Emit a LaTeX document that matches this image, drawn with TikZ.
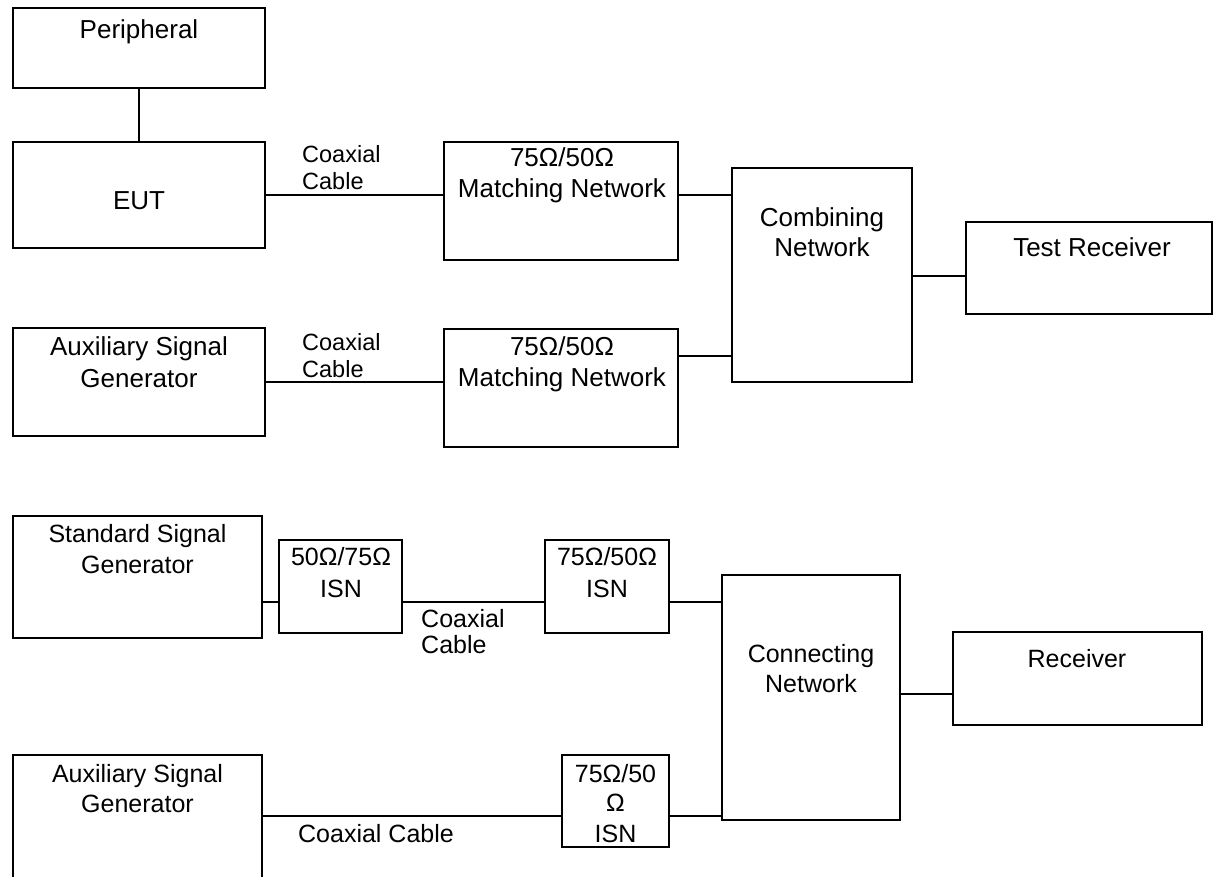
\documentclass[tikz,border=0pt]{standalone}
\usepackage{fontspec}
\setmainfont{Liberation Sans}
\begin{document}
\begin{tikzpicture}[x=1pt,y=-1pt,
  bx/.style 2 args={draw, line width=2pt, inner sep=0pt, minimum width=#1pt, minimum height=#2pt},
  t/.style={anchor=base, inner sep=0pt, font=\fontsize{26}{30}\selectfont},
  tb/.style={anchor=base, inner sep=0pt, font=\fontsize{25}{30}\selectfont},
  cx/.style={anchor=base west, inner sep=0pt, font=\fontsize{23.5}{27}\selectfont},
  ln/.style={line width=1.8pt}]
\useasboundingbox (0,0) rectangle (1214,877);
\clip (0,0) rectangle (1214,877);
\fill[white] (0,0) rectangle (1214,877);
% ---- upper set-up ----
\node[bx={252}{80}] (per) at (139,48) {};
\node[t] (tper) at (139,39) {Peripheral};
\node[bx={252}{106}] (eut) at (139,195) {};
\node[t] (teut) at (139,210) {EUT};
\node[bx={234}{118}] (mn1) at (561,201) {};
\node[t] (tmn1a) at (562,167) {75Ω/50Ω};
\node[t] (tmn1b) at (562,198) {Matching Network};
\node[bx={180}{214}] (cn) at (822,275) {};
\node[t] (tcna) at (822,227) {Combining};
\node[t] (tcnb) at (822,256) {Network};
\node[bx={246}{92}] (tr) at (1089,268) {};
\node[t] (ttr) at (1092,256) {Test Receiver};
\node[bx={252}{108}] (asg1) at (139,382) {};
\node[t] (tasg1a) at (139,355) {Auxiliary Signal};
\node[t] (tasg1b) at (139,387) {Generator};
\node[bx={234}{118}] (mn2) at (561,388) {};
\node[t] (tmn2a) at (562,355) {75Ω/50Ω};
\node[t] (tmn2b) at (562,386) {Matching Network};
\node[cx] (cc1a) at (302,163) {Coaxial};
\node[cx] (cc1b) at (302,190) {Cable};
\node[cx] (cc2a) at (302,350) {Coaxial};
\node[cx] (cc2b) at (302,377) {Cable};
\draw[ln] (per.south) -- (eut.north);
\draw[ln] (eut.east) -- (eut.east -| mn1.west);
\draw[ln] (mn1.east |- 0,195) -- (cn.west |- 0,195);
\draw[ln] (cn.east |- 0,276) -- (tr.west |- 0,276);
\draw[ln] (asg1.east) -- (asg1.east -| mn2.west);
\draw[ln] (mn2.east |- 0,356) -- (cn.west |- 0,356);
% ---- lower set-up ----
\node[bx={249}{122}] (ssg) at (137.5,577) {};
\node[tb] (tssga) at (137.5,542) {Standard Signal};
\node[tb] (tssgb) at (137.5,573) {Generator};
\node[bx={123}{93}] (isn1) at (340.5,586.5) {};
\node[tb] (tisn1a) at (341,565) {50Ω/75Ω};
\node[tb] (tisn1b) at (341,597) {ISN};
\node[bx={124}{93}] (isn2) at (607,586.5) {};
\node[tb] (tisn2a) at (607,565) {75Ω/50Ω};
\node[tb] (tisn2b) at (607,597) {ISN};
\node[tb, anchor=base west] (cc3a) at (421,627) {Coaxial};
\node[tb, anchor=base west] (cc3b) at (421,653) {Cable};
\node[bx={178}{245}] (con) at (811,697.5) {};
\node[tb] (tcona) at (811,662) {Connecting};
\node[tb] (tconb) at (811,692) {Network};
\node[bx={249}{93}] (rec) at (1077.5,678.5) {};
\node[tb] (trec) at (1077,667) {Receiver};
\node[bx={249}{140}] (asg2) at (137.5,825) {};
\node[tb] (tasg2a) at (137.5,782) {Auxiliary Signal};
\node[tb] (tasg2b) at (137.5,812) {Generator};
\node[tb] (cc4) at (376,842) {Coaxial Cable};
\node[bx={107}{92}] (isn3) at (615.5,801) {};
\node[tb] (tisn3a) at (615.5,782) {75Ω/50};
\node[tb] (tisn3b) at (615.5,811) {Ω};
\node[tb] (tisn3c) at (615.5,842) {ISN};
\draw[ln] (ssg.east |- 0,602) -- (isn1.west |- 0,602);
\draw[ln] (isn1.east |- 0,602) -- (isn2.west |- 0,602);
\draw[ln] (isn2.east |- 0,602) -- (con.west |- 0,602);
\draw[ln] (con.east |- 0,694) -- (rec.west |- 0,694);
\draw[ln] (asg2.east |- 0,816) -- (isn3.west |- 0,816);
\draw[ln] (isn3.east |- 0,816) -- (con.west |- 0,816);
\end{tikzpicture}
\end{document}
